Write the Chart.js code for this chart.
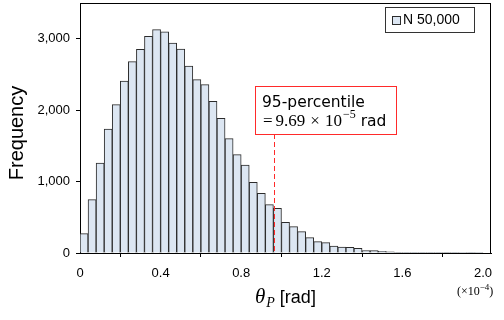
<!DOCTYPE html>
<html><head><meta charset="utf-8">
<script src="https://cdn.jsdelivr.net/npm/chart.js@4/dist/chart.umd.min.js"></script>
<style>html,body{margin:0;padding:0;background:#fff}</style>
</head><body>
<canvas id="c" width="504" height="320"></canvas>
<script>
// ---- data ----
const binWidth = 0.04;
const frequencies = [271,747,1260,1736,2077,2408,2679,2851,3033,3127,
  3098,2940,2856,2618,2427,2357,2123,1885,1601,1377,
  1232,989,835,677,626,430,369,299,215,159,
  145,98,84,79,65,35,33,25,15,8,
  5,4,3,2,2,6,5,1,4,1,0];
const xTicks = [0, 0.4, 0.8, 1.2, 1.6, 2.0];
const yTicks = [0, 1000, 2000, 3000];
const legendLabel = 'N 50,000';
const percentile95 = 0.969;
const annotTitle = '95-percentile';
const annotValue = '9.69';
const annotExp = '\u22125';

const SANS = '"Liberation Sans", Arial, sans-serif';
const DSANS = '"DejaVu Sans", sans-serif';
const SERIF = '"Liberation Serif", "DejaVu Serif", serif';
const FILL = '#dce6f2';
const EDGE = '#2b2b2b';
const RED = '#ff2a2a';

const overlay = {
  id: 'overlay',
  afterDatasetsDraw(chart) {
    const {ctx, chartArea: a, scales: {x}} = chart;
    ctx.save();
    // frame top/right
    ctx.strokeStyle = '#000'; ctx.lineWidth = 1;
    ctx.beginPath();
    ctx.moveTo(a.left, a.top + 0.5); ctx.lineTo(a.right, a.top + 0.5);
    ctx.moveTo(a.right - 0.5, a.top); ctx.lineTo(a.right - 0.5, a.bottom);
    ctx.stroke();

    // percentile dashed line + box
    const px = Math.round(x.getPixelForValue(percentile95)) - 0.5;
    const bx = 255, by = 86, bw = 141, bh = 48;
    ctx.strokeStyle = RED; ctx.lineWidth = 1;
    ctx.setLineDash([5, 3]);
    ctx.beginPath(); ctx.moveTo(px, by + bh); ctx.lineTo(px, a.bottom); ctx.stroke();
    ctx.setLineDash([]);
    ctx.fillStyle = '#fff';
    ctx.fillRect(bx, by, bw, bh);
    ctx.strokeRect(bx + 0.5, by + 0.5, bw, bh);
    ctx.fillStyle = '#000';
    ctx.textBaseline = 'alphabetic'; ctx.textAlign = 'left';
    ctx.font = '15.5px ' + DSANS;
    ctx.fillText(annotTitle, bx + 7, by + 21);
    let tx = bx + 8;
    const base2 = by + 40;
    ctx.font = '17px ' + SERIF;
    ctx.fillText('=', tx, base2); tx += ctx.measureText('=').width + 3;
    ctx.fillText(annotValue, tx, base2); tx += ctx.measureText(annotValue).width + 5;
    ctx.fillText('\u00d7', tx, base2); tx += ctx.measureText('\u00d7').width + 5;
    ctx.fillText('10', tx, base2); tx += ctx.measureText('10').width + 1;
    ctx.font = '12px ' + SERIF;
    ctx.fillText(annotExp, tx, base2 - 8); tx += ctx.measureText(annotExp).width + 5;
    ctx.font = '15.5px ' + DSANS;
    ctx.fillText('rad', tx, base2);

    // legend
    const lx = 385, ly = 7, lw = 89, lh = 25;
    ctx.fillStyle = '#fff'; ctx.fillRect(lx, ly, lw, lh);
    ctx.strokeStyle = '#333'; ctx.strokeRect(lx + 0.5, ly + 0.5, lw, lh);
    ctx.fillStyle = FILL; ctx.fillRect(lx + 7, ly + 9, 8, 8);
    ctx.strokeStyle = EDGE; ctx.strokeRect(lx + 7.5, ly + 9.5, 8, 8);
    ctx.fillStyle = '#000'; ctx.font = '14px ' + SANS;
    ctx.textBaseline = 'middle';
    ctx.fillText(chart.data.datasets[0].label, lx + 18, ly + 13.5);

    // axis titles
    ctx.font = '20px ' + SANS; ctx.textAlign = 'center';
    ctx.save(); ctx.translate(17, 133); ctx.rotate(-Math.PI / 2);
    ctx.fillText('Frequency', 0, 0); ctx.restore();

    ctx.textAlign = 'left'; ctx.textBaseline = 'alphabetic';
    let ax = 255; const ab = 303;
    ctx.font = 'italic 21px ' + SERIF;
    ctx.fillText('\u03b8', ax, ab); ax += ctx.measureText('\u03b8').width + 1;
    ctx.font = 'italic 14px ' + SERIF;
    ctx.fillText('P', ax, ab + 4); ax += ctx.measureText('P').width + 5;
    ctx.font = '18px ' + SANS;
    ctx.fillText('[rad]', ax, ab);

    // exponent note
    let ex = 457; const eb = 295;
    ctx.font = '12px ' + SERIF;
    ctx.fillText('(\u00d710', ex, eb); ex += ctx.measureText('(\u00d710').width;
    ctx.font = '9px ' + SERIF;
    ctx.fillText('\u22124', ex, eb - 5); ex += ctx.measureText('\u22124').width;
    ctx.font = '12px ' + SERIF;
    ctx.fillText(')', ex, eb);
    ctx.restore();
  }
};

new Chart(document.getElementById('c'), {
  type: 'bar',
  data: {
    datasets: [{
      label: legendLabel,
      data: frequencies.map((f, i) => ({x: binWidth * (i + 0.5), y: f})),
      backgroundColor: FILL,
      borderColor: EDGE,
      borderWidth: 1,
      barPercentage: 1,
      categoryPercentage: 1,
      borderSkipped: 'start'
    }]
  },
  options: {
    responsive: false,
    animation: false,
    layout: {padding: {top: 3, right: 13, left: 0, bottom: 0}},
    plugins: {legend: {display: false}, tooltip: {enabled: false}},
    scales: {
      x: {
        type: 'linear', min: 0, max: 2.04, offset: false,
        afterBuildTicks: s => { s.ticks = xTicks.map(v => ({value: v})); },
        afterFit: s => { s.height = 67; s.paddingLeft = 0; s.paddingRight = 0; },
        grid: {drawOnChartArea: false, drawTicks: true, tickLength: 4, color: '#000'},
        border: {color: '#000'},
        ticks: {font: {family: SANS, size: 13}, color: '#000', padding: 9, maxRotation: 0, autoSkip: false,
          callback: v => v === 0 ? '0' : v.toFixed(1)}
      },
      y: {
        min: 0, max: 3500,
        afterBuildTicks: s => { s.ticks = yTicks.map(v => ({value: v})); },
        afterFit: s => { s.width = 80; s.paddingTop = 0; s.paddingBottom = 0; },
        grid: {drawOnChartArea: false, drawTicks: true, tickLength: 4, color: '#000'},
        border: {color: '#000'},
        ticks: {font: {family: SANS, size: 13}, color: '#000', padding: 6,
          callback: v => v.toLocaleString('en-US')}
      }
    }
  },
  plugins: [overlay]
});
</script>
</body></html>
